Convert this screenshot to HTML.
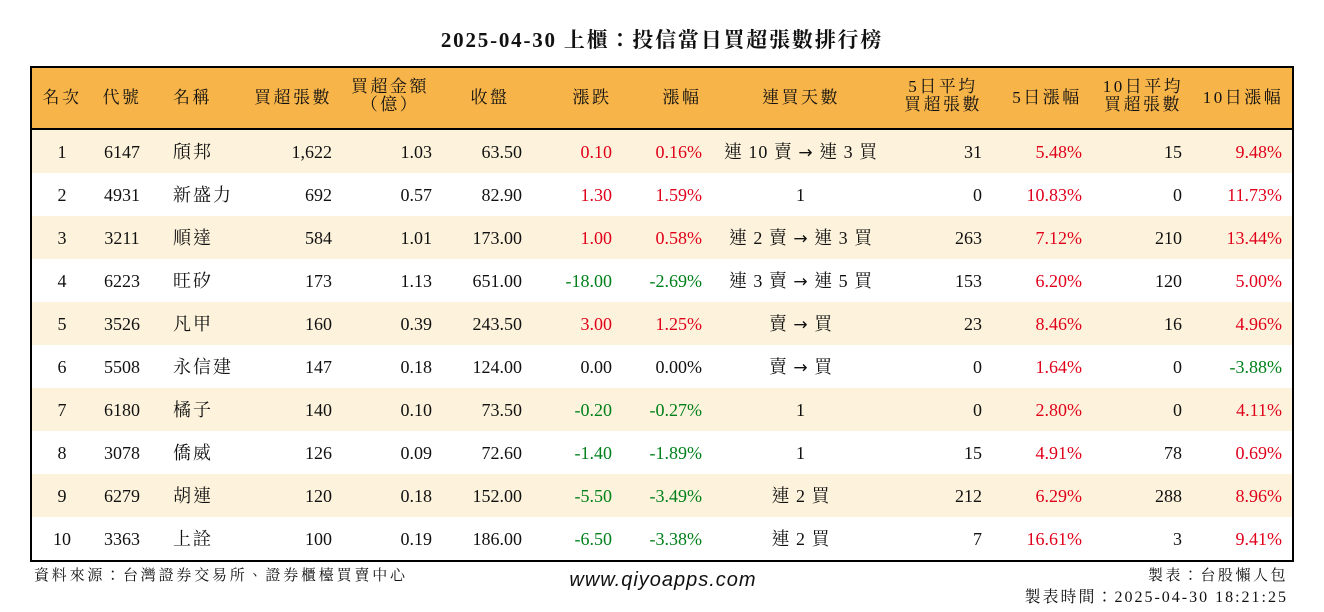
<!DOCTYPE html>
<html><head><meta charset="utf-8">
<style>
body{margin:0;width:1324px;height:612px;background:#fff;position:relative;overflow:hidden;font-family:"Liberation Serif","Noto Serif CJK TC","Noto Serif CJK SC",serif;color:#111;}
.a{position:absolute;white-space:nowrap;line-height:1;}
.r{color:#e0001a}.g{color:#00801a}
.ar{font-family:"DejaVu Sans",sans-serif;font-size:17px;}
</style></head><body>
<div class="a" style="left:0;width:1324px;text-align:center;top:30px;font-size:21px;letter-spacing:1.8px;font-weight:bold;">2025-04-30 上櫃：投信當日買超張數排行榜</div>
<div class="a" style="left:31px;top:67px;width:1262px;height:62px;background:#f7b449;"></div>
<div id="rows"></div>
<div class="a" style="left:30px;top:66px;width:1260px;height:492px;border:2px solid #000;"></div>
<div class="a" style="left:31px;top:128px;width:1262px;height:2px;background:#000;"></div>
<div id="cells"></div>
<div class="a" style="left:34px;top:569px;font-size:15px;letter-spacing:2.8px;">資料來源：台灣證券交易所、證券櫃檯買賣中心</div>
<div class="a" style="left:0;width:1326px;text-align:center;top:570px;font-size:20px;letter-spacing:1px;font-style:italic;font-family:'Liberation Sans',sans-serif;">www.qiyoapps.com</div>
<div class="a" style="right:36px;top:569px;font-size:15px;letter-spacing:2.5px;">製表：台股懶人包</div>
<div class="a" style="right:36px;top:590px;font-size:16px;letter-spacing:2px;">製表時間：2025-04-30 18:21:25</div>
<script>
const ranks=[1,2,3,4,5,6,7,8,9,10];
const codes=["6147","4931","3211","6223","3526","5508","6180","3078","6279","3363"];
const names=["頎邦","新盛力","順達","旺矽","凡甲","永信建","橘子","僑威","胡連","上詮"];
const volumes=["1,622","692","584","173","160","147","140","126","120","100"];
const amounts=["1.03","0.57","1.01","1.13","0.39","0.18","0.10","0.09","0.18","0.19"];
const closes=["63.50","82.90","173.00","651.00","243.50","124.00","73.50","72.60","152.00","186.00"];
const changes=["0.10","1.30","1.00","-18.00","3.00","0.00","-0.20","-1.40","-5.50","-6.50"];
const pcts=["0.16%","1.59%","0.58%","-2.69%","1.25%","0.00%","-0.27%","-1.89%","-3.49%","-3.38%"];
const streaks=["連 10 賣 → 連 3 買","1","連 2 賣 → 連 3 買","連 3 賣 → 連 5 買","賣 → 買","賣 → 買","1","1","連 2 買","連 2 買"];
const avg5=["31","0","263","153","23","0","0","15","212","7"];
const pct5=["5.48%","10.83%","7.12%","6.20%","8.46%","1.64%","2.80%","4.91%","6.29%","16.61%"];
const avg10=["15","0","210","120","16","0","0","78","288","3"];
const pct10=["9.48%","11.73%","13.44%","5.00%","4.96%","-3.88%","4.11%","0.69%","8.96%","9.41%"];
const headers=[["名次",62,"c"],["代號",122,"c"],["名稱",173,"l"],["買超張數",293,"c"],["買超金額<br>（億）",390,"c"],["收盤",490,"c"],["漲跌",592,"c"],["漲幅",682,"c"],["連買天數",801,"c"],["5日平均<br>買超張數",943,"c"],["5日漲幅",1047,"c"],["10日平均<br>買超張數",1143,"c"],["10日漲幅",1243,"c"]];
const rowsEl=document.getElementById('rows'),cellsEl=document.getElementById('cells');
function place(html,x,y,align,cls,size){
  const d=document.createElement('div');
  d.className='a '+(cls||'');
  d.innerHTML=html;
  d.style.fontSize=(size||18)+'px';
  d.style.top=y+'px';
  if(align==='r'){d.style.right=(1324-x)+'px';}
  else if(align==='c'){d.style.left=(x-150)+'px';d.style.width='300px';d.style.textAlign='center';}
  else d.style.left=x+'px';
  cellsEl.appendChild(d);return d;
}
headers.forEach(h=>{
  const two=h[0].includes('<br>');
  const d=place(h[0],h[1],two?78:89,h[2],'',17);
  d.style.lineHeight='18px';d.style.letterSpacing='2.5px';
  
  
});
function col(v){return parseFloat(v)>0?'r':(parseFloat(v)<0?'g':'');}
ranks.forEach((rk,i)=>{
  const top=130+i*43;
  if(i%2===0){const b=document.createElement('div');b.className='a';
    b.style.cssText=`left:31px;top:${top}px;width:1262px;height:43px;background:#fdf3dc;`;
    
    
    rowsEl.appendChild(b);}
  const y=top+13;
  const st=streaks[i].replace('→','<span class="ar">→</span>');
  const cells=[[rk,62,'c',''],[codes[i],122,'c',''],[names[i],173,'l',''],[volumes[i],332,'r',''],[amounts[i],432,'r',''],[closes[i],522,'r',''],[changes[i],612,'r',col(changes[i])],[pcts[i],702,'r',col(pcts[i])],[st,801,'c',''],[avg5[i],982,'r',''],[pct5[i],1082,'r',col(pct5[i])],[avg10[i],1182,'r',''],[pct10[i],1282,'r',col(pct10[i])]];
  cells.forEach(c=>{
    const d=place(c[0],c[1],y,c[2],c[3],18);
    if(c[1]===173) d.style.letterSpacing='2px';
    if(c[1]===801) d.style.letterSpacing='1px';
    
    
  });
});
</script>
</body></html>
